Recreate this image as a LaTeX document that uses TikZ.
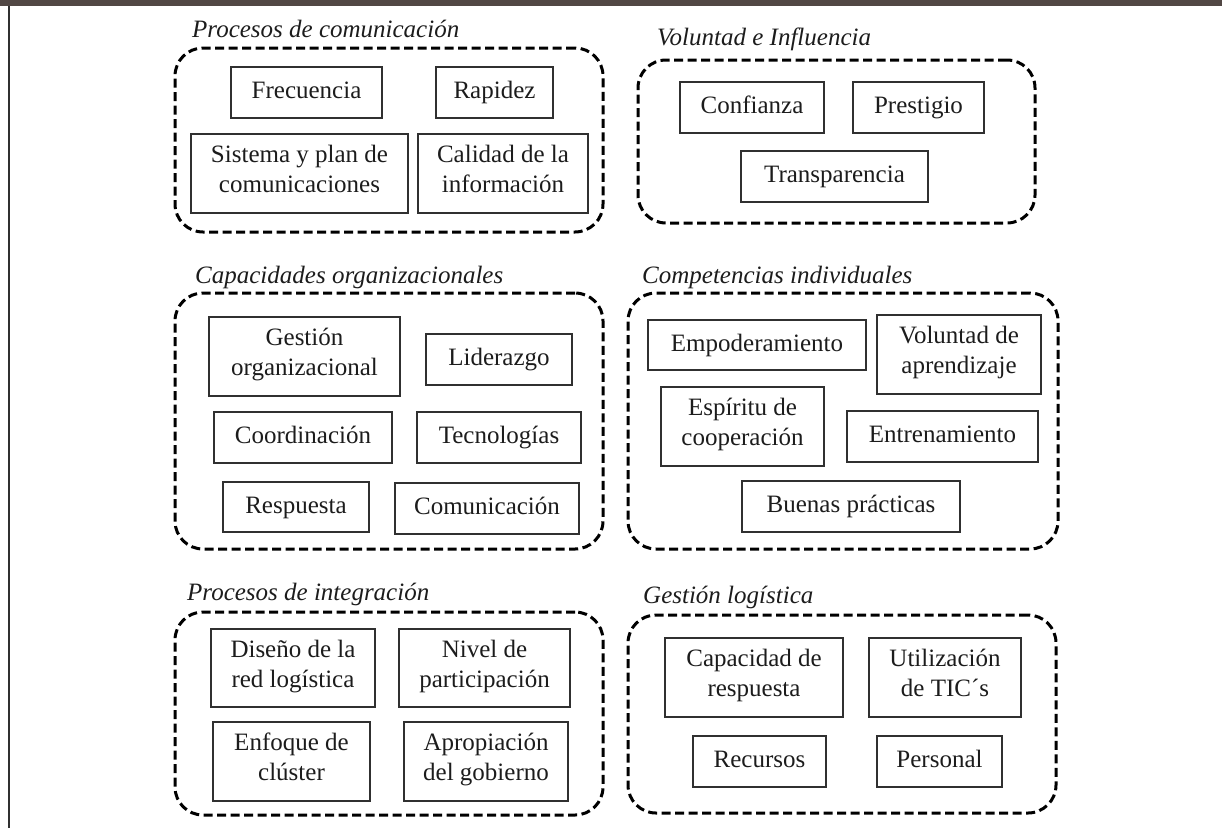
\documentclass[tikz,border=0pt]{standalone}
\usepackage{fontspec}
\setmainfont{Liberation Serif}
\definecolor{band}{HTML}{514744}
\definecolor{ink}{HTML}{1C1C1C}
\definecolor{boxline}{HTML}{303030}
\tikzset{
  item/.style={draw=boxline, line width=1.3pt, inner sep=0pt, align=center,
    text=ink, font=\fontsize{25}{30}\selectfont,
    execute at begin node=\strut, execute at end node=\strut},
  group/.style={draw=black, line width=3pt, dash pattern=on 9pt off 4.5pt,
    rounded corners=28pt, inner sep=0pt},
  gtitle/.style={anchor=base west, inner sep=0pt, text=ink,
    font=\fontsize{25}{30}\selectfont\itshape}
}
\begin{document}
\begin{tikzpicture}[x=1pt,y=-1pt]
\useasboundingbox (0,0) rectangle (1222,828);
% frame
\fill[band] (0,0) rectangle (1222,6);
\draw[line width=2.5pt, draw=boxline] (9,6) -- (9,828);

% Group 1
\node[group, minimum width=428, minimum height=184] (g1) at (389,140) {};
\node[gtitle] (t1) at (192,37) {Procesos de comunicación};
\node[item, minimum width=151, minimum height=51] (frec) at (306.5,92.5) {Frecuencia};
\node[item, minimum width=117, minimum height=51] (rap) at (494.5,92.5) {Rapidez};
\node[item, minimum width=217, minimum height=79] (sis) at (299.5,173.5) {Sistema y plan de\\comunicaciones};
\node[item, minimum width=170, minimum height=79] (cal) at (503,173.5) {Calidad de la\\información};

% Group 2
\node[group, minimum width=397, minimum height=163] (g2) at (836.5,141.5) {};
\node[gtitle] (t2) at (657,45) {Voluntad e Influencia};
\node[item, minimum width=144, minimum height=51] (conf) at (752,107.5) {Confianza};
\node[item, minimum width=131, minimum height=51] (pres) at (918.5,107.5) {Prestigio};
\node[item, minimum width=187, minimum height=51] (trans) at (834.5,176.5) {Transparencia};

% Group 3
\node[group, minimum width=428, minimum height=256] (g3) at (389,421) {};
\node[gtitle] (t3) at (195,283) {Capacidades organizacionales};
\node[item, minimum width=191, minimum height=79] (gest) at (304.5,356.5) {Gestión\\organizacional};
\node[item, minimum width=146, minimum height=51] (lid) at (499,359.5) {Liderazgo};
\node[item, minimum width=178, minimum height=51] (coord) at (303,437.5) {Coordinación};
\node[item, minimum width=164, minimum height=51] (tec) at (499,437.5) {Tecnologías};
\node[item, minimum width=146, minimum height=50] (resp) at (296,507) {Respuesta};
\node[item, minimum width=184, minimum height=51] (comu) at (487,508.5) {Comunicación};

% Group 4
\node[group, minimum width=430, minimum height=256] (g4) at (843,421) {};
\node[gtitle] (t4) at (642,283) {Competencias individuales};
\node[item, minimum width=218, minimum height=50] (emp) at (757,345) {Empoderamiento};
\node[item, minimum width=164, minimum height=79] (vol) at (959,354.5) {Voluntad de\\aprendizaje};
\node[item, minimum width=163, minimum height=79] (esp) at (742.5,426.5) {Espíritu de\\cooperación};
\node[item, minimum width=191, minimum height=51] (ent) at (942.5,436.5) {Entrenamiento};
\node[item, minimum width=218, minimum height=51] (bue) at (851,506.5) {Buenas prácticas};

% Group 5
\node[group, minimum width=428, minimum height=203] (g5) at (389,713.5) {};
\node[gtitle] (t5) at (187,600) {Procesos de integración};
\node[item, minimum width=164, minimum height=78] (dis) at (293,668) {Diseño de la\\red logística};
\node[item, minimum width=171, minimum height=78] (niv) at (484.5,668) {Nivel de\\participación};
\node[item, minimum width=157, minimum height=79] (enf) at (291.5,761.5) {Enfoque de\\clúster};
\node[item, minimum width=164, minimum height=79] (apr) at (486,761.5) {Apropiación\\del gobierno};

% Group 6
\node[group, minimum width=428, minimum height=198] (g6) at (842,714) {};
\node[gtitle] (t6) at (643,603) {Gestión logística};
\node[item, minimum width=178, minimum height=79] (cap) at (754,677.5) {Capacidad de\\respuesta};
\node[item, minimum width=152, minimum height=79] (uti) at (945,677.5) {Utilización\\de TIC´s};
\node[item, minimum width=133, minimum height=51] (rec) at (759.5,761.5) {Recursos};
\node[item, minimum width=125, minimum height=51] (per) at (939.5,761.5) {Personal};
\end{tikzpicture}
\end{document}
